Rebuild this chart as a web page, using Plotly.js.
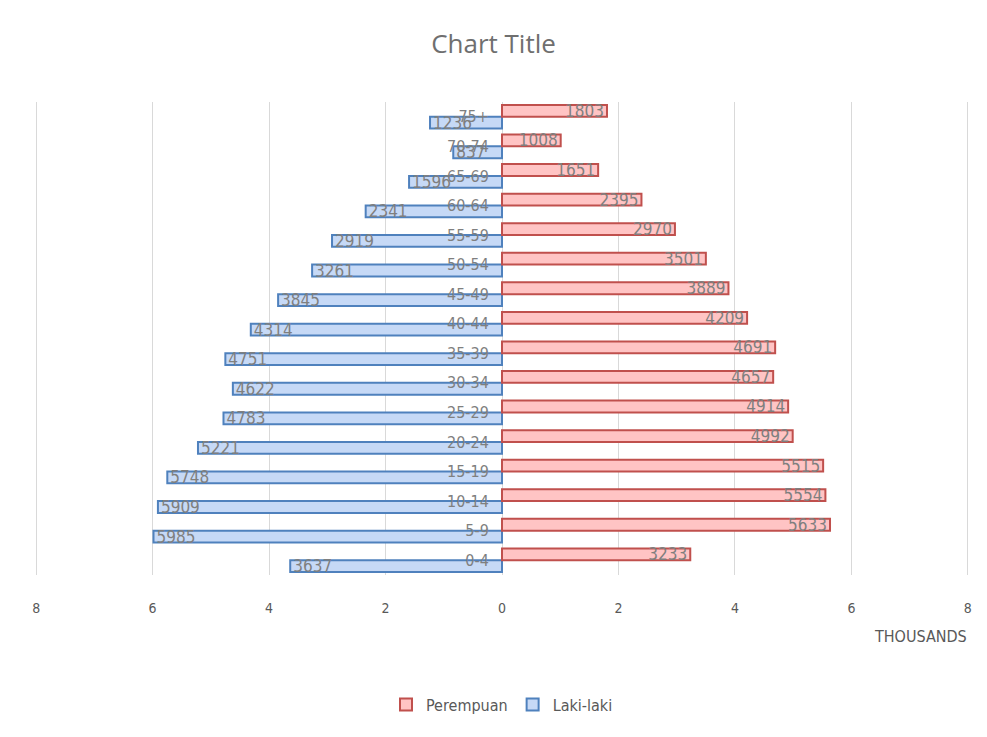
<!DOCTYPE html>
<html>
<head>
<meta charset="utf-8">
<script src="https://cdn.plot.ly/plotly-3.0.1.min.js"></script>
<style>html,body{margin:0;padding:0;background:#fff;}#chart{width:987px;height:737px;}</style>
</head>
<body>
<div id="chart"></div>
<script>
const ageGroups = ["0-4","5-9","10-14","15-19","20-24","25-29","30-34","35-39","40-44","45-49","50-54","55-59","60-64","65-69","70-74","75+"];
const perempuan = [3233,5633,5554,5515,4992,4914,4657,4691,4209,3889,3501,2970,2395,1651,1008,1803];
const lakiLaki  = [3637,5985,5909,5748,5221,4783,4622,4751,4314,3845,3261,2919,2341,1596,837,1236];
const tickValues = [-8,-6,-4,-2,0,2,4,6,8];
const tickLabels = ["8","6","4","2","0","2","4","6","8"];

const labelFont = {family: "Liberation Sans Narrow, DejaVu Sans Condensed, sans-serif", size: 17, color: "#7f7f7f"};

const traces = [
  {
    type: "bar", orientation: "h", name: "Laki-laki", legendrank: 2,
    y: ageGroups, x: lakiLaki.map(v => -v / 1000),
    text: lakiLaki.map(String), textposition: "inside", insidetextanchor: "end",
    constraintext: "none", textangle: 0, cliponaxis: false,
    textfont: labelFont, insidetextfont: labelFont,
    marker: {color: "#c6d9f6", line: {color: "#4f81bd", width: 2}},
    hoverinfo: "skip"
  },
  {
    type: "bar", orientation: "h", name: "Perempuan", legendrank: 1,
    y: ageGroups, x: perempuan.map(v => v / 1000),
    text: perempuan.map(String), textposition: "inside", insidetextanchor: "end",
    constraintext: "none", textangle: 0, cliponaxis: false,
    textfont: labelFont, insidetextfont: labelFont,
    marker: {color: "#ffc4c4", line: {color: "#c0504d", width: 2}},
    hoverinfo: "skip"
  }
];

const layout = {
  width: 987, height: 737,
  paper_bgcolor: "#ffffff", plot_bgcolor: "#ffffff",
  margin: {l: 35, r: 18, t: 102, b: 162},
  title: {text: "Chart Title", x: 0.5, xanchor: "center", y: 0.94, yanchor: "middle",
          font: {family: "Open Sans, sans-serif", size: 26, color: "#6f6f6f"}},
  barmode: "group", bargap: 0.2, bargroupgap: 0,
  xaxis: {
    range: [-8.02, 8.02], tickvals: tickValues, ticktext: tickLabels,
    showgrid: true, gridcolor: "#d9d9d9", gridwidth: 1, zeroline: false,
    ticks: "outside", ticklen: 20, tickcolor: "rgba(0,0,0,0)",
    tickfont: {family: "DejaVu Sans Condensed, sans-serif", size: 14, color: "#595959"},
    showline: false, fixedrange: true
  },
  yaxis: {
    type: "category", anchor: "free", position: 0.5, side: "left",
    showgrid: false, zeroline: false, showline: false,
    ticks: "outside", ticklen: 10, tickcolor: "rgba(0,0,0,0)",
    tickfont: {family: "DejaVu Sans Condensed, sans-serif", size: 16, color: "#7f7f7f"},
    fixedrange: true
  },
  showlegend: true,
  legend: {orientation: "h", x: 0.5, xanchor: "center", y: -0.274, yanchor: "middle",
           font: {family: "DejaVu Sans Condensed, sans-serif", size: 16, color: "#595959"},
           itemwidth: 30},
  annotations: [
    {text: "THOUSANDS", xref: "paper", yref: "paper", x: 1.0, xanchor: "right", y: -0.13, yanchor: "middle",
     showarrow: false, font: {family: "DejaVu Sans Condensed, sans-serif", size: 16, color: "#595959"}}
  ]
};

Plotly.newPlot("chart", traces, layout, {displayModeBar: false, staticPlot: true});
</script>
</body>
</html>
